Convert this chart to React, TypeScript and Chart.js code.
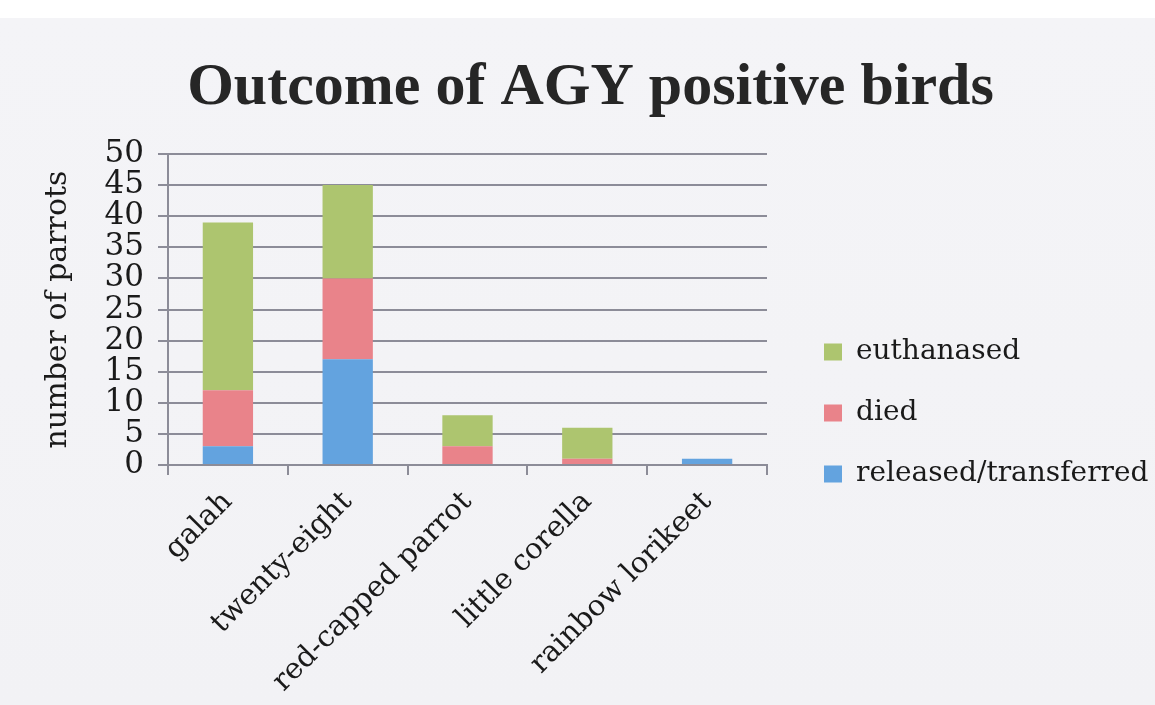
import React, { useEffect, useRef } from 'react';
import { Chart, registerables } from 'chart.js';

Chart.register(...registerables);

const categories = ['galah', 'twenty-eight', 'red-capped parrot', 'little corella', 'rainbow lorikeet'];
const releasedTransferred = [3, 17, 0, 0, 1];
const died = [9, 13, 3, 1, 0];
const euthanased = [27, 15, 5, 5, 0];
const seriesNames = ['released/transferred', 'died', 'euthanased'];
const seriesColors = ['#63a3df', '#e9838a', '#adc56f'];
const yMin = 0;
const yMax = 50;
const yStep = 5;
const chartTitle = 'Outcome of AGY positive birds';
const yTitle = 'number of parrots';

const legendPlacer = {
  id: 'legendPlacer',
  afterLayout(chart: any) {
    const l = chart.legend;
    if (!l) return;
    const w = l.width;
    const h = l.height;
    l.left = 791;
    l.top = 305;
    l.right = l.left + w;
    l.bottom = l.top + h;
  },
};

export default function App() {
  const ref = useRef<HTMLCanvasElement>(null);
  useEffect(() => {
    document.body.style.margin = '0';
    const gray = '#8c8c98';
    const serif = "'DejaVu Serif', serif";
    const textColor = '#1a1a1a';
    const chart = new Chart(ref.current as HTMLCanvasElement, {
      type: 'bar',
      data: {
        labels: categories,
        datasets: [
          { label: seriesNames[0], data: releasedTransferred, backgroundColor: seriesColors[0] },
          { label: seriesNames[1], data: died, backgroundColor: seriesColors[1] },
          { label: seriesNames[2], data: euthanased, backgroundColor: seriesColors[2] },
        ],
      },
      options: {
        animation: false,
        responsive: false,
        maintainAspectRatio: false,
        datasets: { bar: { categoryPercentage: 0.42, barPercentage: 1 } },
        layout: { padding: { left: 26, right: 0, top: 0, bottom: 0 } },
        plugins: {
          title: {
            display: true,
            text: chartTitle,
            color: '#262626',
            font: { family: "'Liberation Serif', serif", weight: 'bold', size: 60, lineHeight: 1.2 },
            padding: { top: 52, bottom: 30 },
          },
          legend: {
            position: 'chartArea' as any,
            align: 'start',
            reverse: true,
            labels: {
              boxWidth: 18,
              boxHeight: 17,
              padding: 33,
              color: textColor,
              font: { family: serif, size: 28 },
            },
          },
          tooltip: { enabled: false },
        },
        scales: {
          x: {
            stacked: true,
            grid: { drawOnChartArea: false, drawTicks: true, color: gray, lineWidth: 2, tickLength: 10 },
            border: { color: gray, width: 2 },
            ticks: {
              autoSkip: false,
              minRotation: 45,
              maxRotation: 45,
              padding: 10,
              color: textColor,
              font: { family: serif, size: 29 },
            },
            afterFit: (s: any) => { s.height = 240; },
          },
          y: {
            stacked: true,
            min: yMin,
            max: yMax,
            ticks: { stepSize: yStep, autoSkip: false, padding: 14, color: textColor, font: { family: serif, size: 31 } },
            grid: { color: gray, lineWidth: 2, tickLength: 10 },
            border: { color: gray, width: 2 },
            title: {
              display: true,
              text: yTitle,
              color: textColor,
              font: { family: serif, size: 30, lineHeight: 1.2 },
              padding: { top: 14, bottom: 0 },
            },
            afterFit: (s: any) => { s.width = 142; },
          },
          yRight: {
            position: 'right',
            display: true,
            ticks: { display: false },
            grid: { display: false },
            border: { display: false },
            afterFit: (s: any) => { s.width = 388; },
          },
        },
      } as any,
      plugins: [legendPlacer],
    });
    return () => chart.destroy();
  }, []);
  return (
    <div
      style={{
        width: 1155,
        height: 705,
        background: 'linear-gradient(#ffffff 0px, #ffffff 18px, #f4f4f7 18px, #f2f2f5 100%)',
      }}
    >
      <canvas ref={ref} width={1155} height={705} style={{ display: 'block' }} />
    </div>
  );
}
